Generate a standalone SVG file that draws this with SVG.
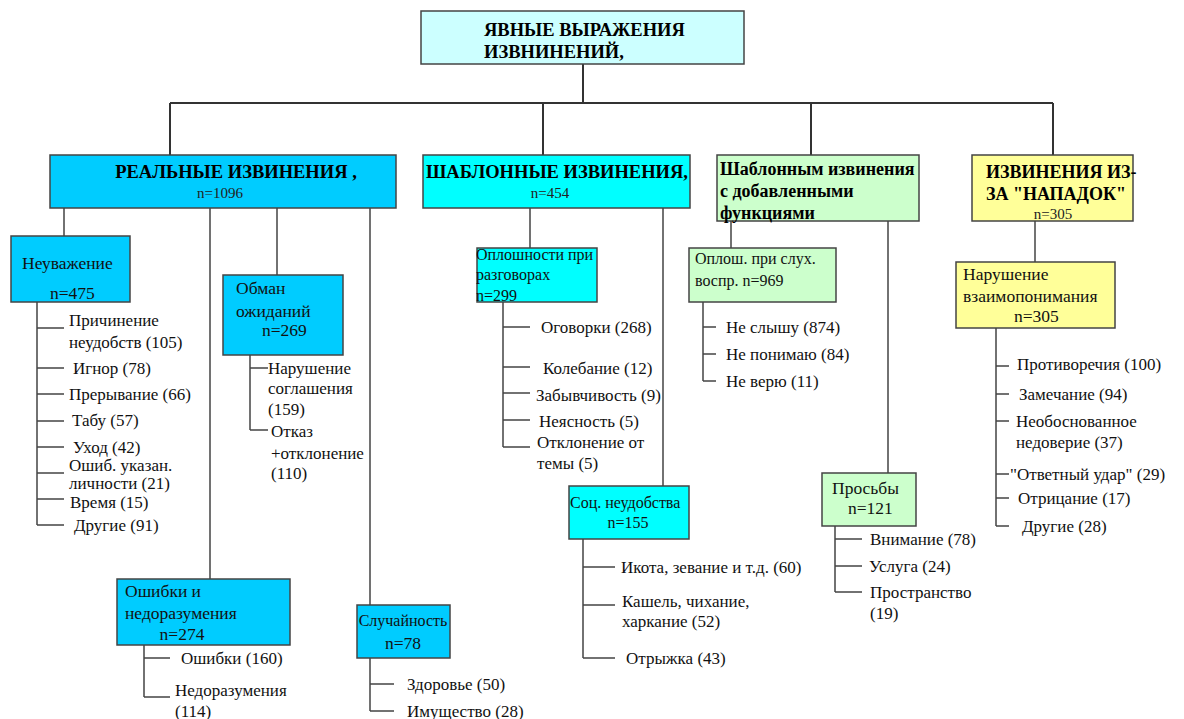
<svg xmlns="http://www.w3.org/2000/svg" width="1184" height="719" viewBox="0 0 1184 719">
<style>
.box{stroke:#444;stroke-width:1.5}
.c1{fill:#00CCFF}.c2{fill:#00FFFF}.c3{fill:#CCFFCC}.c4{fill:#FFFF99}.c0{fill:#CCFFFF}
.t{font-family:"Liberation Serif","Times New Roman",serif;font-size:17px;fill:#111}
.ts{font-family:"Liberation Serif","Times New Roman",serif;font-size:16px;fill:#111}
.tt{font-family:"Liberation Serif","Times New Roman",serif;font-size:17.5px;fill:#111}
.tb{font-family:"Liberation Serif","Times New Roman",serif;font-size:18.5px;font-weight:bold;fill:#000}
.tn{font-family:"Liberation Serif","Times New Roman",serif;font-size:15px;fill:#222}
.main{stroke:#333;stroke-width:2;fill:none}
.br{stroke:#444;stroke-width:1.5;fill:none}
</style>
<rect width="1184" height="719" fill="#fff"/>
<g id="connectors">
<path class="main" d="M583 64V103M170 103H1053M170 103V155M543 103V155M811 103V155M1053 103V155"/>
<path class="br" d="M64 208V236M277 208V275M210 208V579M370 208V605"/>
<path class="br" d="M37 302V525M37 328H64M37 368H64M37 394H64M37 421H64M37 447H64M37 473H64M37 499H64M37 525H64"/>
<path class="br" d="M250 355V430M250 368H268M250 430H268"/>
<path class="br" d="M144 645V697M144 658H170M144 697H170"/>
<path class="br" d="M370 658V711M370 684H394M370 711H394"/>
<path class="br" d="M530 208V248M663 208V486"/>
<path class="br" d="M503 302V447M503 327H530M503 367H530M503 393H530M503 420H530M503 447H530"/>
<path class="br" d="M583 539V658M583 567H615M583 605H615M583 658H615"/>
<path class="br" d="M731 221V248M888 221V473"/>
<path class="br" d="M703 302V381M703 327H716M703 354H716M703 381H716"/>
<path class="br" d="M835 526V592M835 539H862M835 566H862M835 592H862"/>
<path class="br" d="M1035 221V262"/>
<path class="br" d="M996 328V526M996 366H1009M996 394H1009M996 421H1009M996 474H1009M996 498H1009M996 526H1009"/>
</g>
<g id="root">
<rect class="box c0" x="421" y="11" width="323" height="53"/>
<text class="tb" x="484" y="36">ЯВНЫЕ ВЫРАЖЕНИЯ</text>
<text class="tb" x="484" y="58">ИЗВНИНЕНИЙ,</text>
</g>
<g id="real">
<rect class="box c1" x="50" y="155" width="346" height="53"/>
<text class="tb" x="236" y="178" text-anchor="middle">РЕАЛЬНЫЕ ИЗВИНЕНИЯ ,</text>
<text class="tn" x="220" y="198" text-anchor="middle">n=1096</text>
</g>
<g id="template">
<rect class="box c2" x="423" y="155" width="267" height="53"/>
<text class="tb" x="426" y="178">ШАБЛОННЫЕ ИЗВИНЕНИЯ,</text>
<text class="tn" x="550" y="198" text-anchor="middle">n=454</text>
</g>
<g id="template-plus">
<rect class="box c3" x="717" y="155" width="202" height="66"/>
<text class="tb" x="720" y="175" style="font-size:18px">Шаблонным извинения</text>
<text class="tb" x="720" y="197" style="font-size:18px"> с добавленными</text>
<text class="tb" x="720" y="219" style="font-size:18px">функциями</text>
</g>
<g id="attacks">
<rect class="box c4" x="972" y="155" width="161" height="66"/>
<text class="tb" x="986" y="178" style="font-size:18px">ИЗВИНЕНИЯ ИЗ-</text>
<text class="tb" x="986" y="200" style="font-size:18px">ЗА "НАПАДОК"</text>
<text class="tn" x="1053" y="219" text-anchor="middle">n=305</text>
</g>
<g id="disrespect">
<rect class="box c1" x="11" y="236" width="119" height="66"/>
<text class="tt" x="22" y="269">Неуважение</text>
<text class="tt" x="50" y="299">n=475</text>
<text class="t" x="69" y="326">Причинение</text>
<text class="t" x="69" y="348">неудобств (105)</text>
<text class="t" x="73" y="374">Игнор (78)</text>
<text class="t" x="69" y="400">Прерывание (66)</text>
<text class="t" x="72" y="426">Табу (57)</text>
<text class="t" x="73" y="453">Уход (42)</text>
<text class="t" x="69" y="471">Ошиб. указан.</text>
<text class="t" x="69" y="489">личности (21)</text>
<text class="t" x="70" y="508">Время (15)</text>
<text class="t" x="74" y="531">Другие (91)</text>
</g>
<g id="deception">
<rect class="box c1" x="223" y="275" width="120" height="80"/>
<text class="tt" x="236" y="294">Обман</text>
<text class="tt" x="236" y="317">ожиданий</text>
<text class="tt" x="262" y="336">n=269</text>
<text class="t" x="268" y="374">Нарушение</text>
<text class="t" x="268" y="394">соглашения</text>
<text class="t" x="268" y="415">(159)</text>
<text class="t" x="271" y="437">Отказ</text>
<text class="t" x="271" y="459">+отклонение</text>
<text class="t" x="271" y="479">(110)</text>
</g>
<g id="mistakes">
<rect class="box c1" x="117" y="579" width="173" height="66"/>
<text class="tt" x="125" y="597">Ошибки и</text>
<text class="tt" x="125" y="619">недоразумения</text>
<text class="tt" x="182" y="640" text-anchor="middle">n=274</text>
<text class="t" x="181" y="664">Ошибки (160)</text>
<text class="t" x="175" y="696">Недоразумения</text>
<text class="t" x="175" y="717">(114)</text>
</g>
<g id="accident">
<rect class="box c1" x="357" y="605" width="93" height="53"/>
<text class="ts" x="403" y="626" text-anchor="middle">Случайность</text>
<text class="tt" x="403" y="649" text-anchor="middle">n=78</text>
<text class="t" x="407" y="690">Здоровье (50)</text>
<text class="t" x="407" y="717">Имущество (28)</text>
</g>
<g id="speech-slips">
<rect class="box c2" x="477" y="248" width="120" height="54"/>
<text class="ts" x="476" y="260">Оплошности при</text>
<text class="ts" x="476" y="280">разговорах</text>
<text class="ts" x="476" y="301">n=299</text>
<text class="t" x="541" y="333">Оговорки (268)</text>
<text class="t" x="543" y="374">Колебание (12)</text>
<text class="t" x="536" y="401">Забывчивость (9)</text>
<text class="t" x="539" y="427">Неясность (5)</text>
<text class="t" x="537" y="448">Отклонение от</text>
<text class="t" x="537" y="469">темы (5)</text>
</g>
<g id="social">
<rect class="box c2" x="569" y="486" width="120" height="53"/>
<text class="ts" x="570" y="508">Соц. неудобства</text>
<text class="ts" x="628" y="528" text-anchor="middle">n=155</text>
<text class="t" x="621" y="573">Икота, зевание и т.д. (60)</text>
<text class="t" x="622" y="607">Кашель, чихание,</text>
<text class="t" x="622" y="627">харкание (52)</text>
<text class="t" x="626" y="664">Отрыжка (43)</text>
</g>
<g id="hearing">
<rect class="box c3" x="689" y="248" width="147" height="54"/>
<text class="ts" x="695" y="264">Оплош. при слух.</text>
<text class="ts" x="695" y="286">воспр. n=969</text>
<text class="t" x="726" y="333">Не слышу (874)</text>
<text class="t" x="726" y="360">Не понимаю (84)</text>
<text class="t" x="726" y="387">Не верю (11)</text>
</g>
<g id="requests">
<rect class="box c3" x="822" y="473" width="94" height="53"/>
<text class="tt" x="832" y="494">Просьбы</text>
<text class="tt" x="848" y="514">n=121</text>
<text class="t" x="870" y="545">Внимание (78)</text>
<text class="t" x="869" y="572">Услуга (24)</text>
<text class="t" x="870" y="598">Пространство</text>
<text class="t" x="870" y="619">(19)</text>
</g>
<g id="misunderstanding">
<rect class="box c4" x="956" y="262" width="159" height="66"/>
<text class="tt" x="963" y="280">Нарушение</text>
<text class="tt" x="963" y="302">взаимопонимания</text>
<text class="tt" x="1014" y="322">n=305</text>
<text class="t" x="1017" y="370">Противоречия (100)</text>
<text class="t" x="1019" y="400">Замечание (94)</text>
<text class="t" x="1016" y="427">Необоснованное</text>
<text class="t" x="1016" y="448">недоверие (37)</text>
<text class="t" x="1010" y="480">"Ответный удар" (29)</text>
<text class="t" x="1018" y="504">Отрицание (17)</text>
<text class="t" x="1022" y="532">Другие (28)</text>
</g>
</svg>
